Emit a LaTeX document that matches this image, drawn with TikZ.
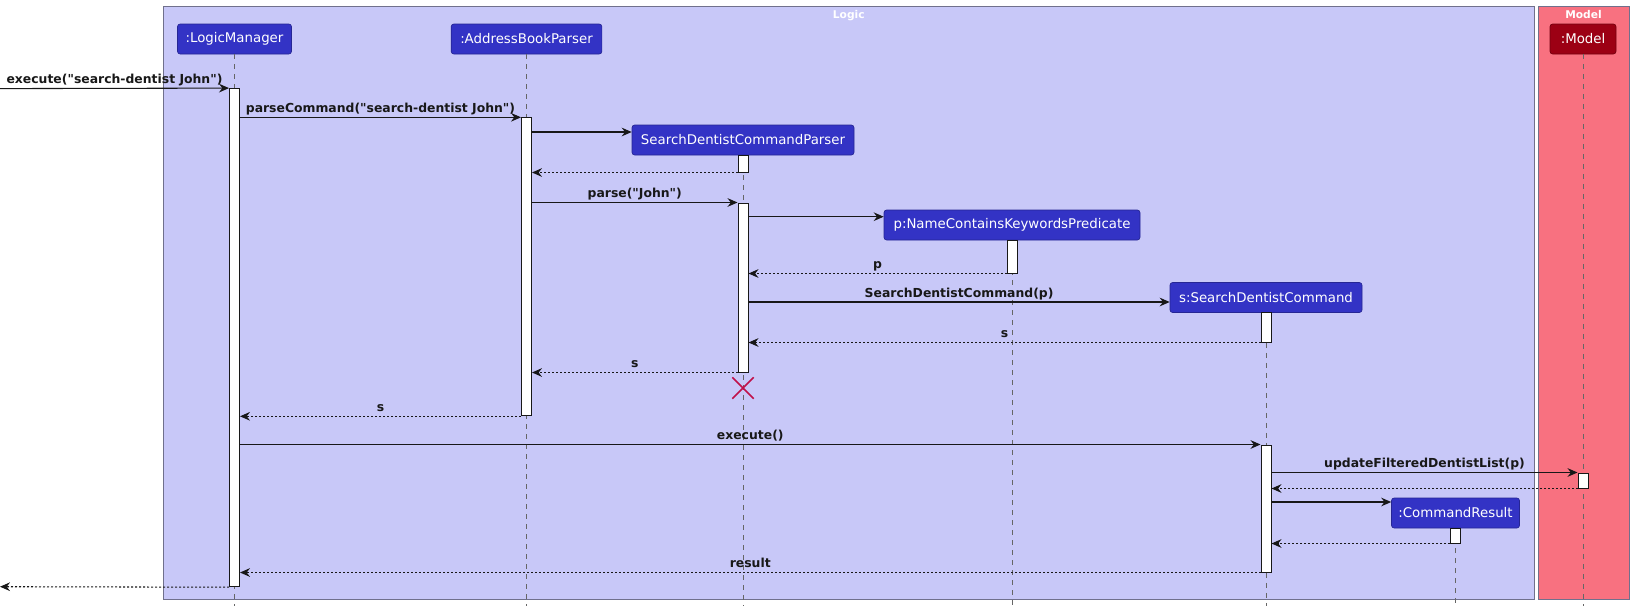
\documentclass[tikz,border=0pt]{standalone}
\usepackage{fontspec}
\setmainfont{DejaVu Sans}[Ligatures=TeXOff]
\usetikzlibrary{arrows.meta,fit,shapes.misc}
\definecolor{logicbg}{HTML}{C8C8F8}
\definecolor{modelbg}{HTML}{F87180}
\definecolor{partblue}{HTML}{3333C5}
\definecolor{partred}{HTML}{9C0014}
\definecolor{framebd}{HTML}{70708C}
\definecolor{xred}{HTML}{C0104A}
\definecolor{ink}{HTML}{181818}
\begin{document}
\begin{tikzpicture}[x=0.75pt,y=-0.75pt,
 frame/.style={draw=framebd, line width=0.75pt, inner sep=0pt},
 ftitle/.style={font=\bfseries\fontsize{8}{9}\selectfont, text=white, anchor=north, inner sep=0pt, yshift=-3pt},
 part/.style={rectangle, rounded corners=2pt, fill=partblue, draw=partblue!75!black, line width=0.5pt, text=white, minimum height=22.5pt, inner sep=0pt, font=\fontsize{10}{12}\selectfont},
 act/.style={draw=ink, fill=white, line width=0.75pt, inner sep=0pt},
 life/.style={draw=black!60, line width=0.6pt, dash pattern=on 3.75pt off 3.75pt},
 msg/.style={draw=ink, line width=0.8pt, -{Stealth[length=7.5pt,width=6.5pt,inset=2.5pt]}},
 ret/.style={msg, dash pattern=on 1.5pt off 1.5pt},
 lbl/.style={font=\bfseries\fontsize{9.3}{11}\selectfont, text=ink, anchor=base, inner sep=0pt, yshift=3.5pt},
]
\useasboundingbox (0,0) rectangle (1634,611);
% frames
\node[frame, fill=logicbg, fit={(163.6,6.3) (1534,599)}] (logic) {};
\node[ftitle] (logicT) at (logic.north) {Logic};
\node[frame, fill=modelbg, fit={(1538,6.3) (1629,599)}] (model) {};
\node[ftitle] (modelT) at (model.north) {Model};
% participants
\node[part, minimum width=85.5pt] (pLM) at (234.5,39) {:LogicManager};
\node[part, minimum width=113pt] (pABP) at (526.5,39) {:AddressBookParser};
\node[part, minimum width=166.5pt] (pSDCP) at (743,140) {SearchDentistCommandParser};
\node[part, minimum width=192pt] (pP) at (1012,225) {p:NameContainsKeywordsPredicate};
\node[part, minimum width=144pt] (pS) at (1266,297.5) {s:SearchDentistCommand};
\node[part, minimum width=96pt] (pCR) at (1455.5,513) {:CommandResult};
\node[part, fill=partred, draw=partred!75!black, minimum width=49.5pt] (pM) at (1583,39) {:Model};
% lifelines
\foreach \p in {pLM,pABP,pSDCP,pP,pS,pCR,pM}{
  \draw[life] (\p.south) -- (\p.south |- 0,606);
}
% activations
\node[act, fit={(229.5,88.6) (239.5,586.7)}] (aLM) {};
\node[act, fit={(521.5,117.8) (531.5,415.8)}] (aABP) {};
\node[act, fit={(738,155) (748,172)}] (aSDCP1) {};
\node[act, fit={(738,203) (748,372)}] (aSDCP2) {};
\node[act, fit={(1007,240) (1017,273)}] (aP) {};
\node[act, fit={(1261,312.5) (1271,342)}] (aS1) {};
\node[act, fit={(1261,445) (1271,572)}] (aS2) {};
\node[act, fit={(1578,473) (1588,488)}] (aM) {};
\node[act, fit={(1450.5,528) (1460.5,543)}] (aCR) {};
% destroy
\node[draw=xred, cross out, line width=1.1pt, minimum size=15pt, inner sep=0pt] (destroy) at (743,388) {};
% messages
\coordinate (inL) at (0,88.6);
\coordinate (outL) at (0,586.7);
\draw[msg] (inL) -- node[lbl]{execute("search-dentist John")} (aLM.north west);
\draw[msg] (aLM.east |- aABP.north) -- node[lbl]{parseCommand("search-dentist John")} (aABP.north west);
\draw[msg] (aABP.east |- 0,132) -- (pSDCP.west |- 0,132);
\draw[ret] (aSDCP1.south west) -- (aABP.east |- aSDCP1.south);
\draw[msg] (aABP.east |- aSDCP2.north) -- node[lbl]{parse("John")} (aSDCP2.north west);
\draw[msg] (aSDCP2.east |- 0,216.7) -- (pP.west |- 0,216.7);
\draw[ret] (aP.south west) -- node[lbl]{p} (aSDCP2.east |- aP.south);
\draw[msg] (aSDCP2.east |- 0,302) -- node[lbl]{SearchDentistCommand(p)} (pS.west |- 0,302);
\draw[ret] (aS1.south west) -- node[lbl]{s} (aSDCP2.east |- aS1.south);
\draw[ret] (aSDCP2.south west) -- node[lbl]{s} (aABP.east |- aSDCP2.south);
\draw[ret] (aABP.south west) -- node[lbl]{s} (aLM.east |- aABP.south);
\draw[msg] (aLM.east |- aS2.north) -- node[lbl]{execute()} (aS2.north west);
\draw[msg] (aS2.east |- aM.north) -- node[lbl]{updateFilteredDentistList(p)} (aM.north west);
\draw[ret] (aM.south west) -- (aS2.east |- aM.south);
\draw[msg] (aS2.east |- 0,502) -- (pCR.west |- 0,502);
\draw[ret] (aCR.south west) -- (aS2.east |- aCR.south);
\draw[ret] (aS2.south west) -- node[lbl]{result} (aLM.east |- aS2.south);
\draw[ret] (aLM.south west) -- (outL);
\end{tikzpicture}
\end{document}
